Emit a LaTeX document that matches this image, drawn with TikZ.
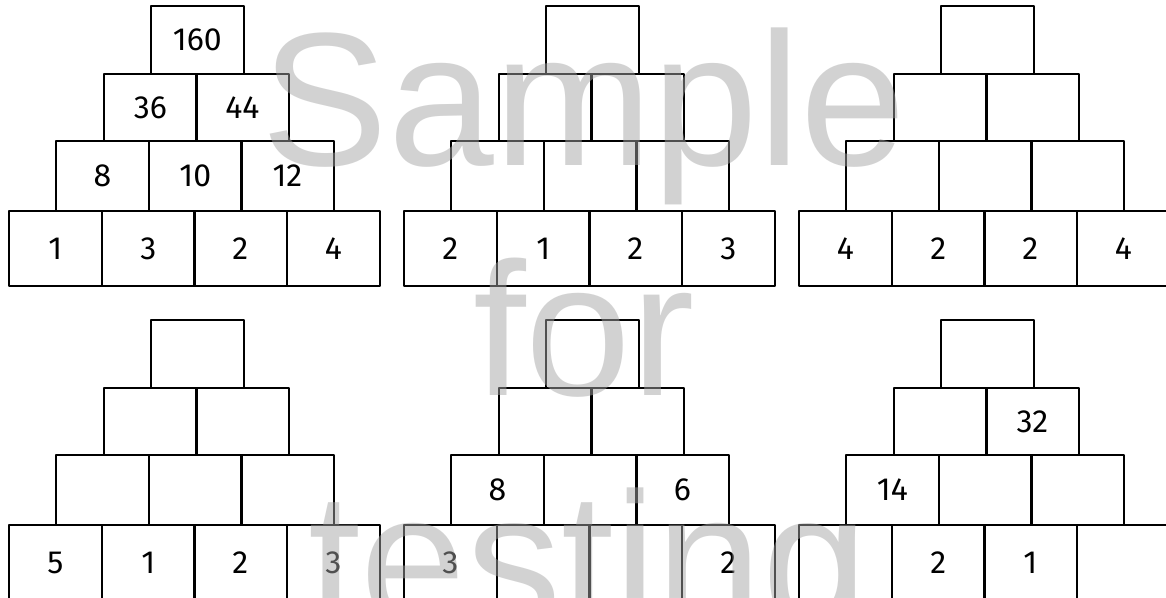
\documentclass[tikz,border=0pt]{standalone}
\usepackage{fontspec}
\newfontfamily\numfam{Fira Sans}
\newfontfamily\wmfam{Liberation Sans}
\definecolor{wm}{RGB}{165,165,165}
\tikzset{
  cell/.style={draw=black, line width=2.2pt, rectangle, inner sep=0pt,
    anchor=north west, line join=round, font=\numfam\fontsize{32}{36}\selectfont},
  wmtext/.style={text=wm, text opacity=0.49, anchor=base, inner sep=0pt,
    font=\wmfam\fontsize{190}{228}\selectfont}
}
\newcommand\mypyr[4]{%
  \foreach \r/\c/\t in {#4}{%
    \pgfmathsetmacro\hx{round(#2+150-(\r-1)*47.3+(\c-1)*92.5)}%
    \pgfmathsetmacro\hy{#3+{0,68,135,205}[\r-1]}%
    \pgfmathsetmacro\hh{{68,67,70,75}[\r-1]}%
    \node[cell, minimum width=92.5pt, minimum height=\hh pt] (#1r\r c\c) at (\hx,\hy) {\t};
  }%
}
\begin{document}
\begin{tikzpicture}[x=1pt,y=-1pt]
\useasboundingbox (0,0) rectangle (1166,597);
\clip (0,0) rectangle (1166,597);
\fill[white] (0,0) rectangle (1166,597);
\mypyr{pa}{0}{5}{1/1/160, 2/1/36, 2/2/44, 3/1/8, 3/2/10, 3/3/12, 4/1/1, 4/2/3, 4/3/2, 4/4/4}
\mypyr{pb}{395}{5}{1/1/{}, 2/1/{}, 2/2/{}, 3/1/{}, 3/2/{}, 3/3/{}, 4/1/2, 4/2/1, 4/3/2, 4/4/3}
\mypyr{pc}{790}{5}{1/1/{}, 2/1/{}, 2/2/{}, 3/1/{}, 3/2/{}, 3/3/{}, 4/1/4, 4/2/2, 4/3/2, 4/4/4}
\mypyr{pd}{0}{319}{1/1/{}, 2/1/{}, 2/2/{}, 3/1/{}, 3/2/{}, 3/3/{}, 4/1/5, 4/2/1, 4/3/2, 4/4/3}
\mypyr{pe}{395}{319}{1/1/{}, 2/1/{}, 2/2/{}, 3/1/8, 3/2/{}, 3/3/6, 4/1/3, 4/2/{}, 4/3/{}, 4/4/2}
\mypyr{pf}{790}{319}{1/1/{}, 2/1/{}, 2/2/32, 3/1/14, 3/2/{}, 3/3/{}, 4/1/{}, 4/2/2, 4/3/1, 4/4/{}}
\node[wmtext] (w1) at (584,165) {Sample};
\node[wmtext] (w2) at (584,395) {for};
\node[wmtext] (w3) at (588,625) {testing};
\end{tikzpicture}
\end{document}
